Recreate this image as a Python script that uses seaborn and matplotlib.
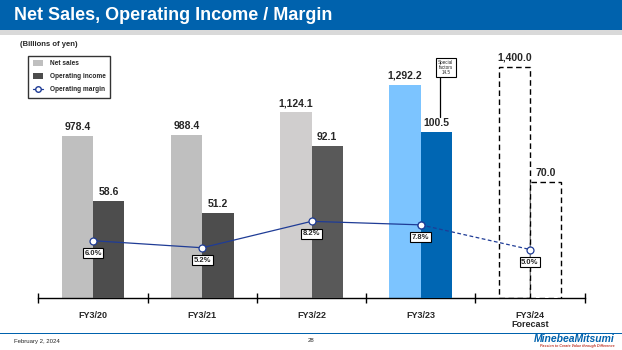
import matplotlib
matplotlib.use('Agg')
import matplotlib.pyplot as plt
import numpy as np
import pandas as pd
import seaborn as sns
from matplotlib.patches import Rectangle, Patch
from matplotlib.lines import Line2D

# 数据
years = ['FY3/20', 'FY3/21', 'FY3/22', 'FY3/23', 'FY3/24\nForecast']
net_sales = [978.4, 988.4, 1124.1, 1292.2, 1400.0]
op_income = [58.6, 51.2, 92.1, 100.5, 70.0]
op_margin = [6.0, 5.2, 8.2, 7.8, 5.0]
special_factors = 14.5

series = ['Net sales', 'Operating income']

sales_df = pd.DataFrame({'year': years, 'value': net_sales, 'series': series[0]})
op_df = pd.DataFrame({'year': years, 'value': op_income, 'series': series[1]})
margin_df = pd.DataFrame({'pos': np.arange(len(years)), 'margin': op_margin})

# 颜色
sales_colors = ['#BFBFBF', '#BFBFBF', '#D0CECE', '#7CC4FF', 'white']
op_colors = ['#4D4D4D', '#4D4D4D', '#595959', '#0066B3', 'white']
navy = '#1F3C96'
brand_blue = '#0062AD'

sns.set_style('white')
plt.rcParams['font.family'] = ['Liberation Sans', 'DejaVu Sans']

W, H = 622, 350
fig = plt.figure(figsize=(W / 100, H / 100), dpi=100)

# 坐标区 (像素换算)
ax_left, ax_right, ax_top, ax_bottom = 38.4, 584.6, 40, 298
ax1 = fig.add_axes([ax_left / W, 1 - ax_bottom / H, (ax_right - ax_left) / W, (ax_bottom - ax_top) / H])
ax2 = ax1.twinx()
ax3 = ax1.twinx()

bw = 0.573
sns.barplot(data=sales_df, x='year', y='value', hue='series', hue_order=series,
            dodge=True, width=bw, ax=ax1, legend=False, saturation=1)
sns.barplot(data=op_df, x='year', y='value', hue='series', hue_order=series,
            dodge=True, width=bw, ax=ax2, legend=False, saturation=1)

for i, p in enumerate(ax1.patches):
    p.set_facecolor(sales_colors[i])
    p.set_edgecolor('none')
for i, p in enumerate(ax2.patches):
    p.set_facecolor(op_colors[i])
    p.set_edgecolor('none')
# 预测值: 虚线框
for p in (ax1.patches[-1], ax2.patches[-1]):
    p.set_edgecolor('black')
    p.set_linestyle((0, (4, 2.5)))
    p.set_linewidth(1.0)

ymax = (ax_bottom - ax_top) / 0.1652
ax1.set_ylim(0, ymax)
ax2.set_ylim(0, ymax / 10)
px_per_pct = 8.8
zero_px = 293.5
ax3.set_ylim(-(ax_bottom - zero_px) / px_per_pct, (zero_px - ax_top) / px_per_pct)
ax1.set_xlim(-0.5, len(years) - 0.5)

# 柱上数值
off = bw / 4
for i, v in enumerate(net_sales):
    ax1.annotate(f'{v:,.1f}', (i - off, v), xytext=(0, 3), textcoords='offset points',
                 ha='center', va='bottom', fontsize=7.5, fontweight='bold')
for i, v in enumerate(op_income):
    ax2.annotate(f'{v:,.1f}', (i + off, v), xytext=(0, 3), textcoords='offset points',
                 ha='center', va='bottom', fontsize=7.5, fontweight='bold')

# 营业利润率折线
sns.lineplot(data=margin_df.iloc[:4], x='pos', y='margin', ax=ax3, color=navy, lw=0.9,
             marker='o', markersize=5, markerfacecolor='white', markeredgecolor=navy,
             markeredgewidth=0.9, zorder=5)
sns.lineplot(data=margin_df.iloc[3:], x='pos', y='margin', ax=ax3, color=navy, lw=0.9,
             linestyle=(0, (3, 2)), marker='o', markersize=5, markerfacecolor='white',
             markeredgecolor=navy, markeredgewidth=0.9, zorder=5)
for i, m in enumerate(op_margin):
    ax3.annotate(f'{m:.1f}%', (i, m), xytext=(0, -9), textcoords='offset points',
                 ha='center', va='center', fontsize=5.5, fontweight='bold', zorder=6,
                 bbox=dict(boxstyle='square,pad=0.2', fc='white', ec='black', lw=0.8))

# 特殊因素标注
ax2.plot([3.18, 3.18], [109.5, 133.5], color='black', lw=0.9)
ax2.text(3.23, 139.6, f'Special\nfactors\n{special_factors}', ha='center', va='center',
         fontsize=3.3, linespacing=1.0,
         bbox=dict(boxstyle='square,pad=0.5', fc='white', ec='black', lw=0.8))

# 坐标轴样式
for ax in (ax1, ax2, ax3):
    ax.set_yticks([])
    ax.set_ylabel('')
    ax.set_xlabel('')
    for s in ('top', 'left', 'right'):
        ax.spines[s].set_visible(False)
for ax in (ax2, ax3):
    ax.spines['bottom'].set_visible(False)
ax1.spines['bottom'].set_color('black')
ax1.spines['bottom'].set_linewidth(1.0)
ax1.set_xticks(range(len(years)))
ax1.set_xticklabels(years, fontsize=6.5, fontweight='bold', linespacing=1.1)
ax1.set_xticks(np.arange(-0.5, len(years), 1), minor=True)
ax1.tick_params(axis='x', which='major', bottom=True, length=0, pad=9)
ax1.tick_params(axis='x', which='minor', bottom=True, length=7, width=1,
                direction='inout', color='black')

# 图例
handles = [Patch(facecolor=sales_colors[0], edgecolor='none'),
           Patch(facecolor=op_colors[0], edgecolor='none'),
           Line2D([], [], color=navy, lw=0.9, marker='o', markersize=4,
                  markerfacecolor='white', markeredgecolor=navy)]
leg = fig.legend(handles, ['Net sales', 'Operating income', 'Operating margin'],
                 loc='upper left', bbox_to_anchor=(28 / W, 1 - 55.5 / H),
                 prop={'weight': 'bold', 'size': 4.7}, frameon=True,
                 fancybox=False, handlelength=1.6, handleheight=1.0, labelspacing=0.9,
                 borderpad=0.7, handletextpad=1.0, borderaxespad=0)
leg.get_frame().set_edgecolor('black')
leg.get_frame().set_linewidth(1.0)

# 标题栏
fig.patches.append(Rectangle((0, 1 - 30 / H), 1, 30 / H, transform=fig.transFigure,
                             facecolor=brand_blue, edgecolor='none', zorder=0))
fig.patches.append(Rectangle((0, 1 - 35 / H), 1, 5 / H, transform=fig.transFigure,
                             facecolor='#D9D9D9', edgecolor='none', zorder=0))
fig.text(14 / W, 1 - 16 / H, 'Net Sales, Operating Income / Margin', color='white',
         fontsize=13, fontweight='bold', ha='left', va='center')
fig.text(20 / W, 1 - 45 / H, '(Billions of yen)', fontsize=5.5, fontweight='bold',
         ha='left', va='center')

# 页脚
fig.patches.append(Rectangle((0, 1 - 334 / H), 1, 1.5 / H, transform=fig.transFigure,
                             facecolor=brand_blue, edgecolor='none'))
fig.text(14 / W, 1 - 341 / H, 'February 2, 2024', fontsize=4.3, ha='left', va='center')
fig.text(311 / W, 1 - 341 / H, '28', fontsize=4.3, ha='center', va='center')
fig.text(615 / W, 1 - 339 / H, 'MinebeaMitsumi', fontsize=7.5, fontweight='bold',
         style='italic', color=brand_blue, ha='right', va='center')
fig.text(615 / W, 1 - 346 / H, 'Passion to Create Value through Difference', fontsize=2.6,
         style='italic', fontweight='bold', color='#C0392B', ha='right', va='center')

plt.savefig('out.png', dpi=100)
